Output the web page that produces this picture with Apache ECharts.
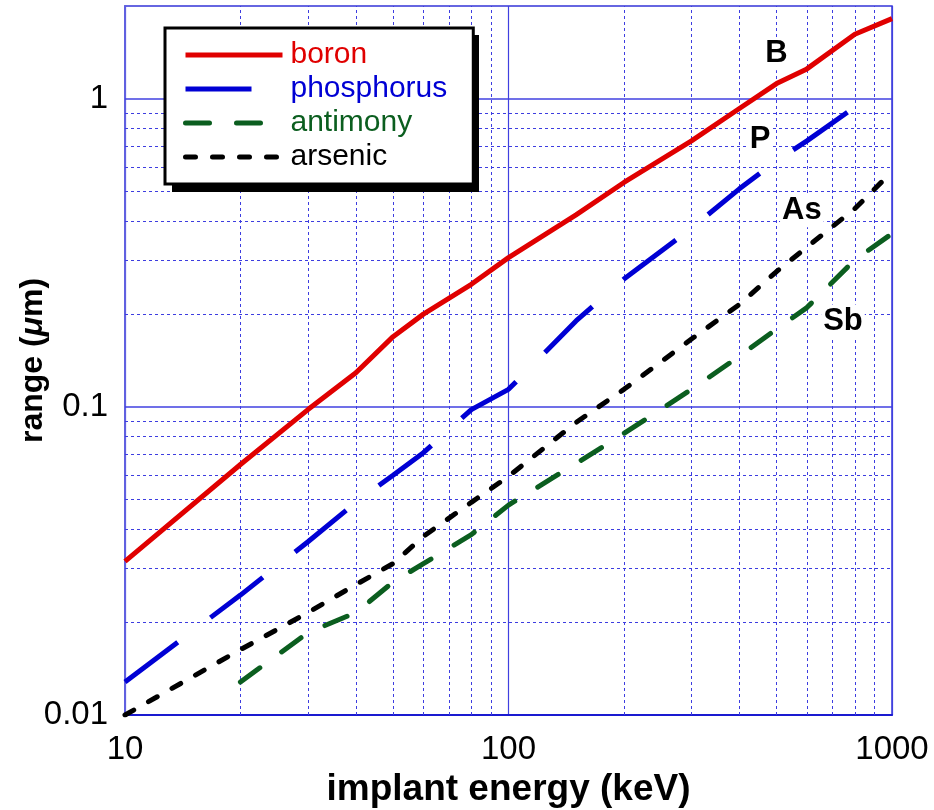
<!DOCTYPE html>
<html>
<head>
<meta charset="utf-8">
<script src="https://cdn.jsdelivr.net/npm/echarts@6/dist/echarts.min.js"></script>
<style>
  html, body { margin: 0; padding: 0; background: #fff; }
  #chart { width: 934px; height: 810px; }
</style>
</head>
<body>
<div id="chart"></div>
<script>
// implant energy (keV)
const energy = [10, 20, 30, 40, 50, 60, 80, 100, 150, 200, 300, 400, 500, 600, 800, 1000]

// projected range (um)
const boron = [0.0315, 0.065, 0.098, 0.129, 0.169, 0.2, 0.25, 0.305, 0.42, 0.535, 0.73, 0.93, 1.12, 1.25, 1.62, 1.82]
const phosphorus = [0.0128, 0.0245, 0.0365, 0.049, 0.06, 0.071, 0.098, 0.114, 0.19, 0.26, 0.38, 0.51, 0.63, 0.73, 0.94, null]
const antimony = [null, 0.0128, 0.0185, 0.0215, 0.027, 0.031, 0.0385, 0.048, 0.0655, 0.082, 0.114, 0.146, 0.179, 0.21, 0.3, 0.365]
const arsenic = [0.01, 0.0163, 0.0215, 0.0265, 0.031, 0.038, 0.049, 0.0595, 0.089, 0.114, 0.166, 0.215, 0.275, 0.33, 0.44, 0.58]

// grid values
const xMinor = [20, 30, 40, 50, 60, 70, 80, 90, 200, 300, 400, 500, 600, 700, 800, 900]
const yMinor = [0.02, 0.03, 0.04, 0.05, 0.06, 0.07, 0.08, 0.09, 0.2, 0.3, 0.4, 0.5, 0.6, 0.7, 0.8, 0.9]
const yMajor = [0.1, 1]
const yTickLabels = [0.01, 0.1, 1]
const xTickLabels = [10, 100, 1000]

// curve tags
const tagNames = ['B', 'P', 'As', 'Sb']
const tagEnergy = [500, 453, 582, 745]
const tagRange = [1.4, 0.74, 0.433, 0.19]

const FONT = 'Liberation Sans, Arial, Helvetica, sans-serif'
const GRID_BLUE = '#4040e0'
const colors = { boron: '#e00000', phosphorus: '#0000d4', antimony: '#0b5e1f', arsenic: '#000000' }

const pairs = (vals) => energy.map((e, i) => [e, vals[i]])

const chart = echarts.init(document.getElementById('chart'), null, { renderer: 'canvas' })

const lineSeries = (name, vals, dash, cap) => ({
  name,
  type: 'line',
  data: pairs(vals),
  symbol: 'none',
  connectNulls: false,
  z: 3,
  lineStyle: { color: colors[name], width: 5, type: dash, cap: cap || 'butt' },
  itemStyle: { color: colors[name] },
})

// invisible carrier series for grid lines drawn as markLines
const gridSeries = (name, lines, style, z) => ({
  name,
  type: 'line',
  data: [[10, 0.01]],
  symbol: 'none',
  color: style.color,
  lineStyle: { opacity: 0 },
  silent: true,
  markLine: {
    silent: true,
    z,
    symbol: ['none', 'none'],
    label: { show: false },
    lineStyle: style,
    emphasis: { disabled: true },
    data: lines,
  },
})

chart.setOption({
  animation: false,
  grid: {
    left: 125,
    right: 42,
    top: 6,
    bottom: 95,
    outerBoundsMode: 'none',
    show: true,
    borderColor: '#3535d8',
    borderWidth: 1.5,
    backgroundColor: 'transparent',
  },
  // drop shadow behind the legend box
  graphic: [
    {
      type: 'rect',
      left: 172,
      top: 35,
      z: 9,
      silent: true,
      shape: { width: 307, height: 157 },
      style: { fill: '#000' },
    },
  ],
  legend: {
    data: ['boron', 'phosphorus', 'antimony', 'arsenic'].map((n) => ({
      name: n,
      textStyle: { color: colors[n] },
    })),
    orient: 'vertical',
    left: 165,
    top: 28,
    itemWidth: 97,
    itemHeight: 6,
    itemGap: 4,
    padding: [12, 26, 12, 18],
    selectedMode: false,
    backgroundColor: '#fff',
    borderColor: '#000',
    borderWidth: 3,
    itemStyle: { opacity: 0, borderWidth: 0 },
    lineStyle: { width: 5 },
    textStyle: { fontFamily: FONT, fontSize: 30, padding: [0, 0, 0, 3] },
    z: 10,
  },
  xAxis: {
    type: 'log',
    logBase: 10,
    min: 10,
    max: 1000,
    name: 'implant energy (keV)',
    nameLocation: 'middle',
    nameGap: 50,
    nameTextStyle: { fontFamily: FONT, fontSize: 37, fontWeight: 'bold', color: '#000' },
    axisLine: { show: true, onZero: false, lineStyle: { color: '#1a1ad0', width: 2 } },
    axisTick: { show: false },
    axisLabel: {
      fontFamily: FONT,
      fontSize: 33,
      color: '#000',
      margin: 18,
      formatter: (v) => (xTickLabels.includes(Math.round(v)) ? String(Math.round(v)) : ''),
    },
    splitLine: { show: true, lineStyle: { color: GRID_BLUE, width: 1.2, type: 'solid' } },
  },
  yAxis: {
    type: 'log',
    logBase: 10,
    min: 0.01,
    max: 2,
    name: '{a|range (}{b|μ}{a|m)}',
    nameLocation: 'middle',
    nameGap: 76,
    nameMoveOverlap: false,
    nameTextStyle: {
      rich: {
        a: { fontFamily: FONT, fontSize: 32, fontWeight: 'bold', color: '#000' },
        b: { fontFamily: FONT, fontSize: 32, fontWeight: 'bold', fontStyle: 'italic', color: '#000' },
      },
    },
    axisLine: { show: true, onZero: false, lineStyle: { color: '#6060e0', width: 2 } },
    axisTick: { show: false },
    axisLabel: {
      fontFamily: FONT,
      fontSize: 33,
      color: '#000',
      margin: 17,
      formatter: (v) => {
        const hit = yTickLabels.find((t) => Math.abs(t - v) / t < 1e-6)
        return hit !== undefined ? String(hit) : ''
      },
    },
    splitLine: { show: false },
  },
  series: [
    gridSeries(
      'minor',
      xMinor.map((v) => ({ xAxis: v })).concat(yMinor.map((v) => ({ yAxis: v }))),
      { color: '#3d3de0', width: 1, type: [3, 3] },
      1
    ),
    gridSeries('major', yMajor.map((v) => ({ yAxis: v })), { color: GRID_BLUE, width: 1.5, type: 'solid' }, 2),
    lineSeries('boron', boron, 'solid'),
    lineSeries('phosphorus', phosphorus, [66, 41]),
    lineSeries('antimony', antimony, [24, 27], 'round'),
    lineSeries('arsenic', arsenic, [10, 17], 'round'),
    {
      name: 'tags',
      type: 'scatter',
      z: 5,
      symbolSize: 1,
      itemStyle: { color: 'transparent' },
      silent: true,
      data: tagNames.map((n, i) => ({ name: n, value: [tagEnergy[i], tagRange[i]] })),
      label: {
        show: true,
        position: 'inside',
        formatter: '{b}',
        fontFamily: FONT,
        fontSize: 31,
        fontWeight: 'bold',
        color: '#000',
        opacity: 1,
        textBorderWidth: 0,
        backgroundColor: '#fff',
        padding: [1, 2],
      },
    },
  ],
})

window.addEventListener('resize', () => chart.resize())
</script>
</body>
</html>
